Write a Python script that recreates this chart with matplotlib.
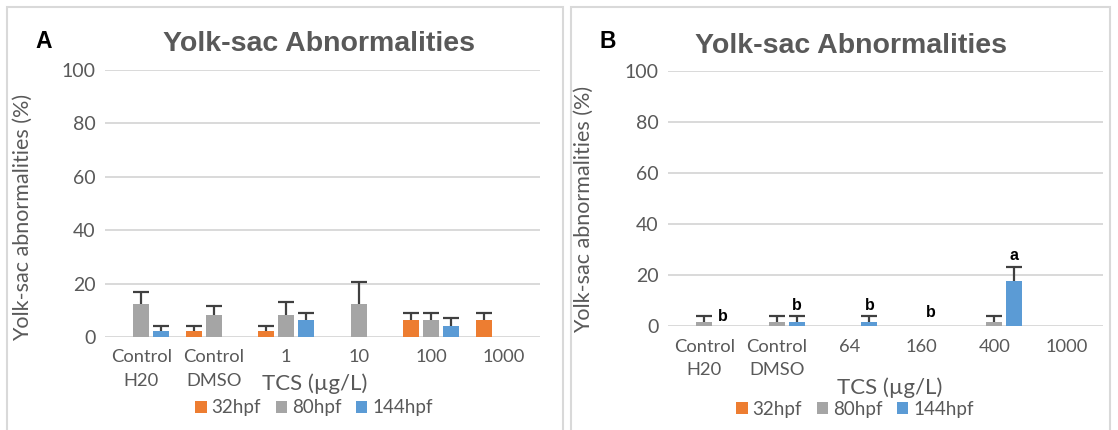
import numpy as np
import matplotlib
matplotlib.use("Agg")
import matplotlib.pyplot as plt
from matplotlib.patches import Rectangle

# ---- data ----
series = ['32hpf', '80hpf', '144hpf']
colors = ['#ED7D31', '#A5A5A5', '#5B9BD5']

cats_a = ['Control\nH20', 'Control\nDMSO', '1', '10', '100', '1000']
vals_a = [[0, 2.1, 2.1, 0, 6.25, 6.25],       # 32hpf
          [12.5, 8.3, 8.3, 12.5, 6.25, 0],     # 80hpf
          [2.1, 0, 6.25, 0, 4.2, 0]]           # 144hpf
errs_a = [[0, 2.0, 2.0, 0, 2.9, 2.9],
          [4.2, 3.2, 4.8, 8.0, 2.9, 0],
          [2.0, 0, 2.9, 0, 2.8, 0]]

cats_b = ['Control\nH20', 'Control\nDMSO', '64', '160', '400', '1000']
vals_b = [[0, 0, 0, 0, 0, 0],
          [1.7, 1.7, 0, 0, 1.7, 0],
          [0, 1.7, 1.7, 0, 17.8, 0]]
errs_b = [[0, 0, 0, 0, 0, 0],
          [2.3, 2.3, 0, 0, 2.3, 0],
          [0, 2.3, 2.3, 0, 5.2, 0]]

# significance letters in panel B: (category index, x offset, height, letter)
sig_b = [(0, 0.26, 3.9, 'b'), (1, 0.28, 8.2, 'b'), (2, 0.28, 8.2, 'b'),
         (3, 0.13, 5.1, 'b'), (4, 0.27, 27.5, 'a')]

W, H = 1118, 430
fig = plt.figure(figsize=(W / 100, H / 100), dpi=100)

grey_txt = '#595959'
tick_font = 'Lato'


def draw_panel(ax, cats, vals, errs):
    x = np.arange(len(cats))
    step, width = 0.276, 0.22
    handles = []
    for i, (v, e) in enumerate(zip(vals, errs)):
        xi = x + (i - 1) * step
        b = ax.bar(xi, v, width, color=colors[i], label=series[i], zorder=3)
        handles.append(b)
        v = np.array(v)
        e = np.array(e)
        m = e > 0
        if m.any():
            _, caps, _ = ax.errorbar(xi[m], v[m], yerr=[np.zeros(m.sum()), e[m]],
                                     fmt='none', ecolor='#404040', elinewidth=1.6,
                                     capsize=6, capthick=1.6, zorder=4)
            caps[0].set_visible(False)
    ax.set_xlim(-0.5, len(cats) - 0.5)
    ax.set_ylim(0, 100)
    ax.set_yticks(range(0, 101, 20))
    ax.set_xticks(x)
    ax.set_xticklabels(cats, fontsize=13.2, color=grey_txt, family=tick_font)
    for t in ax.get_xticklabels():
        t.set_linespacing(1.6)
    for t in ax.get_yticklabels():
        t.set_fontsize(14)
        t.set_color(grey_txt)
        t.set_family(tick_font)
    ax.tick_params(axis='both', length=0)
    ax.tick_params(axis='y', pad=7)
    ax.tick_params(axis='x', pad=9)
    ax.grid(axis='y', color='#D9D9D9', linewidth=1.4, zorder=0)
    ax.set_axisbelow(True)
    for s in ax.spines.values():
        s.set_visible(False)
    ax.set_ylabel('Yolk-sac abnormalities (%)', fontsize=15.5, color=grey_txt,
                  family=tick_font, va='center')
    return handles


leg_kw = dict(loc='center', ncol=3, frameon=False, handlelength=0.6, handleheight=0.6,
              handletextpad=0.25, columnspacing=0.8,
              prop={'family': tick_font, 'size': 13.5}, labelcolor=grey_txt)

# panel A
ax_a = fig.add_axes([105 / W, 1 - 337 / H, 435 / W, 267 / H])
h = draw_panel(ax_a, cats_a, vals_a, errs_a)
ax_a.yaxis.set_label_coords((23 - 105) / 435, (337 - 217) / 267)
ax_a.set_xlabel('TCS (µg/L)', fontsize=16, color=grey_txt, family=tick_font, va='center')
ax_a.xaxis.set_label_coords((315 - 105) / 435, (337 - 384) / 267)
ax_a.legend(h, series, bbox_to_anchor=((314 - 105) / 435, (337 - 408) / 267), **leg_kw)

# panel B
ax_b = fig.add_axes([668 / W, 1 - 326 / H, 435 / W, 255 / H])
h = draw_panel(ax_b, cats_b, vals_b, errs_b)
ax_b.yaxis.set_label_coords((584 - 668) / 435, (326 - 209) / 255)
ax_b.set_xlabel('TCS (µg/L)', fontsize=16, color=grey_txt, family=tick_font, va='center')
ax_b.xaxis.set_label_coords((890 - 668) / 435, (326 - 388) / 255)
ax_b.legend(h, series, bbox_to_anchor=((855 - 668) / 435, (326 - 409) / 255), **leg_kw)
for ci, dx, yv, letter in sig_b:
    ax_b.text(ci + dx, yv, letter, ha='center', va='center', fontsize=11.5,
              fontweight='bold', family='Liberation Sans', color='black', zorder=5)

# titles and panel letters
for cx, cy in [(319, 44), (851, 46)]:
    fig.text(cx / W, 1 - cy / H, 'Yolk-sac Abnormalities', ha='center', va='center',
             fontsize=20.5, fontweight='bold', family='Liberation Sans', color=grey_txt)
for lx, ly, letter in [(44, 42, 'A'), (608, 42, 'B')]:
    fig.text(lx / W, 1 - ly / H, letter, ha='center', va='center', fontsize=16.5,
             fontweight='bold', family='Liberation Sans', color='black')

# panel frames
for x0, x1 in [(7, 563), (571, 1110)]:
    fig.add_artist(Rectangle((x0 / W, -0.02), (x1 - x0) / W, 1 - 7 / H + 0.02,
                             transform=fig.transFigure, fill=False,
                             edgecolor='#D9D9D9', linewidth=1.5))

fig.savefig('out.png', dpi=100)
